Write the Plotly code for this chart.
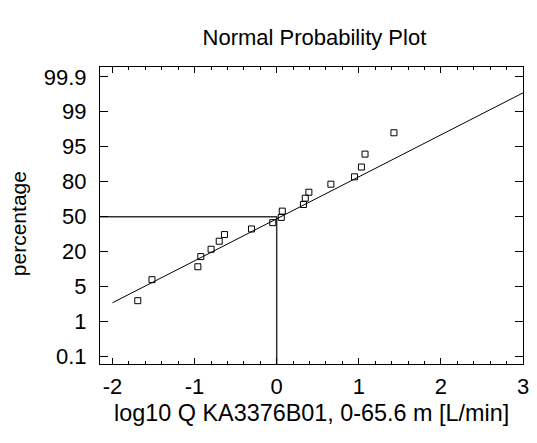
import plotly.graph_objects as go

# Observed data: log10 Q and position on the probability axis (in normal-score units of the axis)
log_q = [-1.692, -1.519, -0.960, -0.924, -0.799, -0.700, -0.636, -0.307, -0.048,
         0.056, 0.068, 0.326, 0.348, 0.392, 0.660, 0.948, 1.032, 1.076, 1.428]
prob_pos = [-2.40, -1.80, -1.43, -1.14, -0.93, -0.70, -0.51, -0.35, -0.17,
            -0.02, 0.16, 0.35, 0.53, 0.70, 0.93, 1.14, 1.42, 1.79, 2.40]

# Fitted normal line (end points)
fit_x = [-2.0, 3.0]
fit_y = [-2.46, 3.54]

# Median crosshair
median_x = 0.0
median_y = 0.0

y_tickvals = [-4, -3, -2, -1, 0, 1, 2, 3, 4]
y_ticktext = ["0.1", "1", "5", "20", "50", "80", "95", "99", "99.9"]
x_tickvals = [-2, -1, 0, 1, 2, 3]
x_ticktext = ["-2", "-1", "0", "1", "2", "3"]

x_range = [-2.152, 3.0]
y_range = [-4.21, 4.28]

W, H = 537, 443

fig = go.Figure()
fig.add_trace(go.Scatter(x=[x_range[0], median_x, median_x], y=[median_y, median_y, y_range[0]],
                         mode="lines", line=dict(color="#333333", width=1.5), hoverinfo="skip"))
fig.add_trace(go.Scatter(x=fit_x, y=fit_y, mode="lines", line=dict(color="black", width=1)))
fig.add_trace(go.Scatter(x=log_q, y=prob_pos, mode="markers",
                         marker=dict(symbol="square-open", size=6, color="black",
                                     line=dict(width=1, color="black"))))

FAM = "Liberation Sans, Arial, sans-serif"
fig.update_layout(
    width=W, height=H,
    margin=dict(l=100, r=8, t=67, b=79),
    paper_bgcolor="white", plot_bgcolor="white",
    showlegend=False,
    font=dict(family=FAM, size=21, color="black"),
    title=dict(text="Normal Probability Plot", x=0.5855, xanchor="center", y=1 - 37 / H,
               yanchor="middle", font=dict(size=22, family=FAM, color="black")),
    xaxis=dict(range=x_range, tickvals=x_tickvals, ticktext=x_ticktext, ticks="inside", ticklen=6,
               tickcolor="black", showline=True, linecolor="black", linewidth=1, mirror="allticks",
               showgrid=False, zeroline=False, ticklabelstandoff=3,
               minor=dict(dtick=0.2, ticks="inside", ticklen=3, tickcolor="black", showgrid=False),
               tickfont=dict(size=22)),
    yaxis=dict(range=y_range, tickvals=y_tickvals, ticktext=y_ticktext, ticks="inside", ticklen=8,
               tickcolor="black", showline=True, linecolor="black", linewidth=1, mirror="allticks",
               showgrid=False, zeroline=False, ticklabelstandoff=8,
               tickfont=dict(size=22)),
    annotations=[
        dict(text="log10 Q KA3376B01, 0-65.6 m [L/min]", xref="paper", yref="paper",
             x=(314 - 100) / (W - 108), y=-(413 - 364) / (H - 146), xanchor="center",
             yanchor="middle", showarrow=False, font=dict(size=23.4, family=FAM, color="black")),
        dict(text="percentage", xref="paper", yref="paper", textangle=-90,
             x=-(100 - 17) / (W - 108), y=1 - (224 - 67) / (H - 146), xanchor="center",
             yanchor="middle", showarrow=False, font=dict(size=21, family=FAM, color="black")),
    ],
)

fig.write_html("out.html")
